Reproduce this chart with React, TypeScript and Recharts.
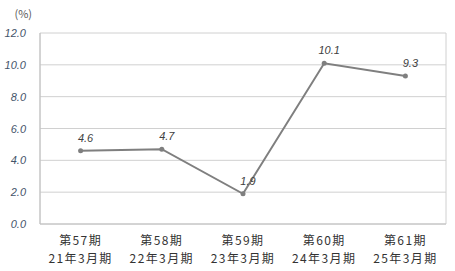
import React from 'react';
import { LineChart, Line, XAxis, YAxis, CartesianGrid, LabelList } from 'recharts';

const periods = ['第57期', '第58期', '第59期', '第60期', '第61期'];
const fiscalYears = ['21年3月期', '22年3月期', '23年3月期', '24年3月期', '25年3月期'];
const ratios = [4.6, 4.7, 1.9, 10.1, 9.3];
const yTicks = [0, 2, 4, 6, 8, 10, 12];

const data = periods.map((p, i) => ({ period: p, fy: fiscalYears[i], value: ratios[i] }));

const W = 455;
const H = 271;
const JP_FONT = "'Noto Sans CJK JP', sans-serif";

const XTick = (props: any) => {
  const { x, y, payload } = props;
  const row = data[payload.index];
  return (
    <g>
      <text x={x} y={y + 13} textAnchor="middle" fill="#333" fontSize={12} letterSpacing={1.4} fontFamily={JP_FONT}>
        {row.period}
      </text>
      <text x={x} y={y + 31} textAnchor="middle" fill="#333" fontSize={12} letterSpacing={1.4} fontFamily={JP_FONT}>
        {row.fy}
      </text>
    </g>
  );
};

const YTick = (props: any) => {
  const { x, y, payload } = props;
  return (
    <text x={x} y={y + 4} textAnchor="end" fill="#44546a" fontSize={11} fontStyle="italic" fontFamily="'Liberation Sans', Arial, sans-serif">
      {Number(payload.value).toFixed(1)}
    </text>
  );
};

const ValueLabel = (props: any) => {
  const { x, y, value } = props;
  return (
    <text x={x + 5} y={y - 9} textAnchor="middle" fill="#404040" fontSize={11} fontStyle="italic" fontFamily="'Liberation Sans', Arial, sans-serif">
      {Number(value).toFixed(1)}
    </text>
  );
};

export default function App() {
  return (
    <div style={{ position: 'absolute', left: 0, top: 0, background: '#fff' }}>
      <LineChart width={W} height={H} data={data} margin={{ top: 33, right: 9, bottom: 7, left: 0 }}>
        <text x={32} y={18} textAnchor="end" fill="#595959" fontSize={11} fontFamily={JP_FONT}>
          (%)
        </text>
        <CartesianGrid stroke="#d0d0d0" vertical={true} verticalPoints={[40, 446]} />
        <XAxis
          dataKey="period"
          tick={<XTick />}
          tickLine={false}
          axisLine={{ stroke: '#c0c0c0' }}
          height={40}
          interval={0}
          padding={{ left: 40.6, right: 40.6 }}
        />
        <YAxis
          domain={[0, 12]}
          ticks={yTicks}
          tick={<YTick />}
          tickLine={false}
          axisLine={{ stroke: '#c0c0c0' }}
          width={40}
          tickMargin={8}
        />
        <Line
          type="linear"
          dataKey="value"
          stroke="#7f7f7f"
          strokeWidth={2}
          dot={{ r: 2.5, fill: '#7f7f7f', stroke: '#7f7f7f', strokeWidth: 0 }}
          isAnimationActive={false}
        >
          <LabelList dataKey="value" content={<ValueLabel />} />
        </Line>
      </LineChart>
    </div>
  );
}
